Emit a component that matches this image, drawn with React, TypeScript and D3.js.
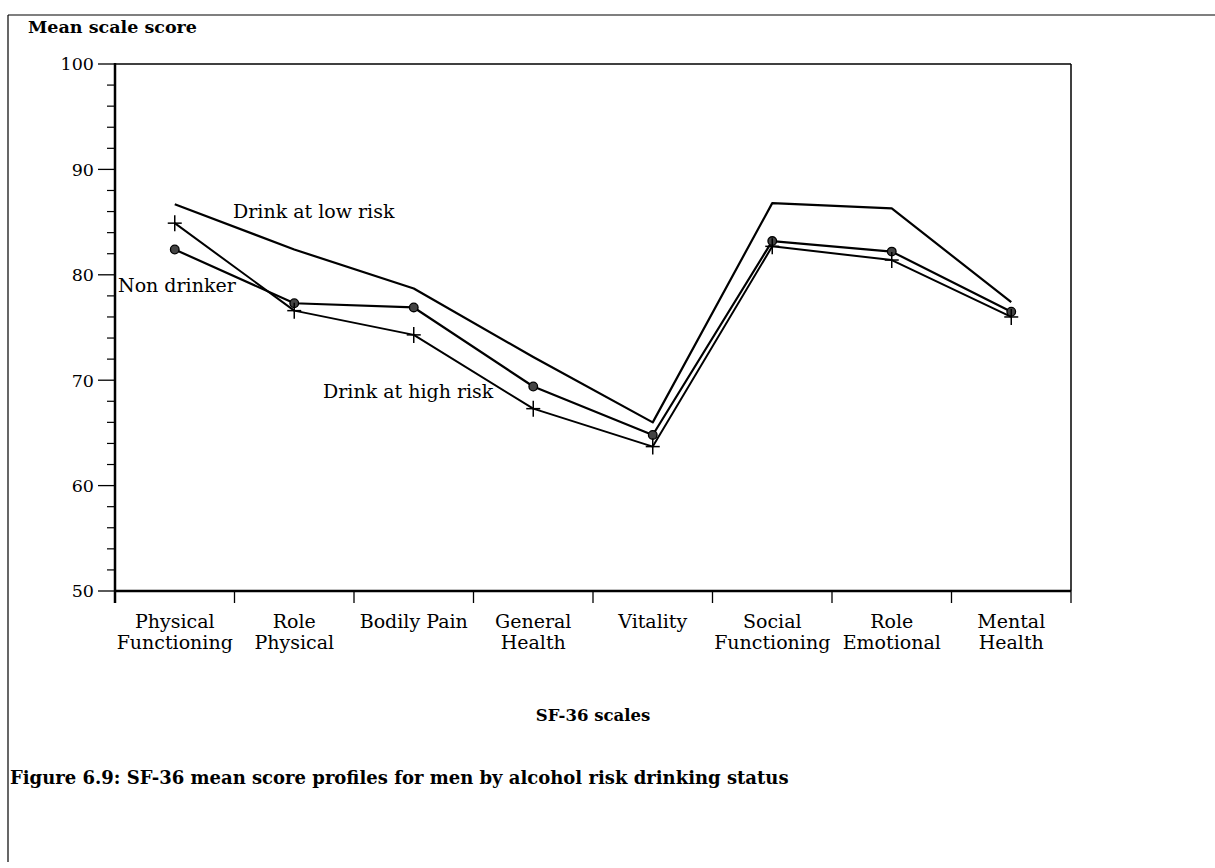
import React from "react";
import * as d3 from "d3";

const categories: string[][] = [
  ["Physical", "Functioning"],
  ["Role", "Physical"],
  ["Bodily Pain"],
  ["General", "Health"],
  ["Vitality"],
  ["Social", "Functioning"],
  ["Role", "Emotional"],
  ["Mental", "Health"],
];

const lowRisk = [86.7, 82.4, 78.7, 72.2, 66.0, 86.8, 86.3, 77.4];
const nonDrinker = [82.4, 77.3, 76.9, 69.4, 64.8, 83.2, 82.2, 76.5];
const highRisk = [84.9, 76.6, 74.3, 67.3, 63.7, 82.7, 81.4, 76.0];

const yMajorTicks = [50, 60, 70, 80, 90, 100];

const seriesLabels = ["Drink at low risk", "Non drinker", "Drink at high risk"];

const FONT = "'DejaVu Serif', 'Liberation Serif', serif";

export default function App() {
  const W = 1215;
  const H = 868;
  const left = 115;
  const right = 1071;
  const top = 64;
  const bottom = 591;

  const x = d3
    .scaleBand<number>()
    .domain(categories.map((_, i) => i))
    .range([left, right]);
  const cx = (i: number) => (x(i) as number) + x.bandwidth() / 2;
  const y = d3.scaleLinear().domain([50, 100]).range([bottom, top]);

  const line = d3
    .line<number>()
    .x((_, i) => cx(i))
    .y((d) => y(d));

  const minorTicks = d3.range(50, 100.001, 2).filter((v) => !yMajorTicks.includes(v));
  const xTickPos = d3.range(0, categories.length + 1).map((i) =>
    i < categories.length ? (x(i) as number) : right
  );

  return (
    <svg
      width={W}
      height={H}
      style={{ position: "absolute", left: 0, top: 0, background: "#fff" }}
      fontFamily={FONT}
    >
      <rect x={0} y={0} width={W} height={H} fill="#fff" />
      {/* outer frame */}
      <line x1={8} y1={15} x2={W} y2={15} stroke="#000" strokeWidth={1.2} />
      <line x1={8} y1={15} x2={8} y2={862} stroke="#000" strokeWidth={1.2} />

      {/* plot border */}
      <line x1={left} y1={top} x2={right} y2={top} stroke="#000" strokeWidth={1.5} />
      <line x1={right} y1={top} x2={right} y2={bottom} stroke="#000" strokeWidth={1.5} />
      <line x1={left} y1={top - 1} x2={left} y2={bottom + 12} stroke="#000" strokeWidth={2.5} />
      <line x1={left} y1={bottom} x2={right} y2={bottom} stroke="#000" strokeWidth={2.5} />

      {/* y ticks */}
      {yMajorTicks.map((v) => (
        <g key={"ym" + v}>
          <line x1={left - 17} x2={left} y1={y(v)} y2={y(v)} stroke="#000" strokeWidth={1.3} />
          <text x={left - 21} y={y(v)} dy="0.36em" textAnchor="end" fontSize={17.5}>
            {v}
          </text>
        </g>
      ))}
      {minorTicks.map((v) => (
        <line key={"yn" + v} x1={left - 8} x2={left} y1={y(v)} y2={y(v)} stroke="#000" strokeWidth={1.2} />
      ))}

      {/* x ticks */}
      {xTickPos.map((p, i) => (
        <line key={"xt" + i} x1={p} x2={p} y1={bottom} y2={bottom + 12} stroke="#000" strokeWidth={1.3} />
      ))}
      {categories.map((lines, i) => (
        <text key={"xl" + i} x={cx(i)} y={628} textAnchor="middle" fontSize={19}>
          {lines.map((l, j) => (
            <tspan key={j} x={cx(i)} dy={j === 0 ? 0 : 21}>
              {l}
            </tspan>
          ))}
        </text>
      ))}

      {/* series lines */}
      <path d={line(lowRisk) || ""} fill="none" stroke="#000" strokeWidth={2.2} strokeLinejoin="round" />
      <path d={line(nonDrinker) || ""} fill="none" stroke="#000" strokeWidth={2.2} strokeLinejoin="round" />
      <path d={line(highRisk) || ""} fill="none" stroke="#000" strokeWidth={2} strokeLinejoin="round" />

      {/* markers */}
      {nonDrinker.map((v, i) => (
        <circle key={"c" + i} cx={cx(i)} cy={y(v)} r={4.3} fill="#444" stroke="#000" strokeWidth={1.3} />
      ))}
      {highRisk.map((v, i) => (
        <g key={"p" + i} stroke="#000" strokeWidth={1.5}>
          <line x1={cx(i) - 7} x2={cx(i) + 7} y1={y(v)} y2={y(v)} />
          <line x1={cx(i)} x2={cx(i)} y1={y(v) - 8} y2={y(v) + 8} />
        </g>
      ))}

      {/* series labels */}
      <text x={233} y={218} fontSize={19}>{seriesLabels[0]}</text>
      <text x={118} y={292} fontSize={19}>{seriesLabels[1]}</text>
      <text x={323} y={398} fontSize={19}>{seriesLabels[2]}</text>

      {/* titles */}
      <text x={28} y={33} fontSize={17.5} fontWeight="bold">Mean scale score</text>
      <text x={593} y={721} fontSize={16.5} fontWeight="bold" textAnchor="middle">
        SF-36 scales
      </text>
      <text x={10} y={784} fontSize={18} fontWeight="bold">
        Figure 6.9: SF-36 mean score profiles for men by alcohol risk drinking status
      </text>
    </svg>
  );
}
